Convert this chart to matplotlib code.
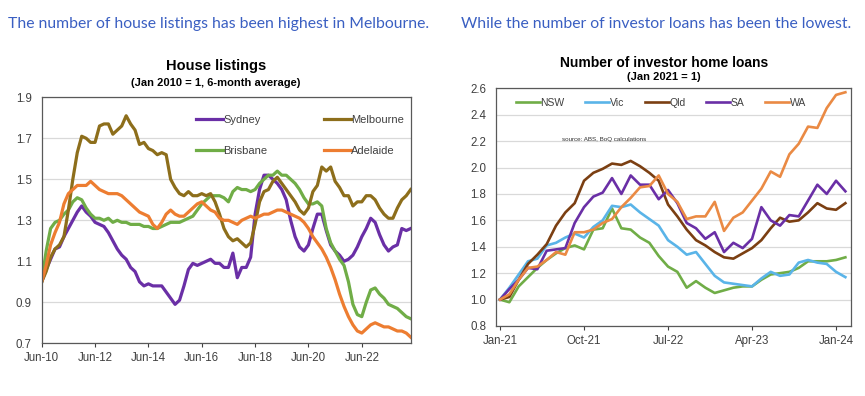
import numpy as np
import matplotlib
matplotlib.use("Agg")
import matplotlib.pyplot as plt

plt.rcParams['font.family'] = ['Liberation Sans Narrow', 'Liberation Sans', 'DejaVu Sans']

# ---- left chart: house listings, 2-monthly from Jun-10 (Jan 2010 = 1) ----
listing_ticks = ['Jun-10', 'Jun-12', 'Jun-14', 'Jun-16', 'Jun-18', 'Jun-20', 'Jun-22']
sydney = [1.00, 1.06, 1.11, 1.16, 1.17, 1.22, 1.26, 1.30, 1.34, 1.37,
          1.34, 1.32, 1.29, 1.28, 1.27, 1.24, 1.20, 1.16, 1.13, 1.11,
          1.07, 1.05, 1.00, 0.98, 0.99, 0.98, 0.98, 0.98, 0.95, 0.92,
          0.89, 0.91, 0.98, 1.06, 1.09, 1.08, 1.09, 1.10, 1.11, 1.09,
          1.09, 1.07, 1.07, 1.14, 1.02, 1.07, 1.07, 1.12, 1.33, 1.45,
          1.52, 1.52, 1.50, 1.48, 1.45, 1.40, 1.30, 1.22, 1.17, 1.15,
          1.18, 1.26, 1.33, 1.33, 1.25, 1.18, 1.15, 1.13, 1.10, 1.11,
          1.13, 1.17, 1.22, 1.26, 1.31, 1.29, 1.23, 1.18, 1.15, 1.17,
          1.18, 1.26, 1.25, 1.26]
melbourne = [1.00, 1.05, 1.12, 1.16, 1.18, 1.22, 1.35, 1.50, 1.63, 1.71,
             1.70, 1.68, 1.68, 1.76, 1.77, 1.77, 1.72, 1.74, 1.76, 1.81,
             1.77, 1.74, 1.67, 1.68, 1.65, 1.64, 1.62, 1.63, 1.62, 1.50,
             1.46, 1.43, 1.42, 1.44, 1.42, 1.42, 1.43, 1.42, 1.43, 1.39,
             1.33, 1.26, 1.22, 1.20, 1.21, 1.19, 1.17, 1.19, 1.28, 1.39,
             1.44, 1.45, 1.49, 1.51, 1.48, 1.45, 1.42, 1.39, 1.35, 1.33,
             1.36, 1.44, 1.47, 1.56, 1.54, 1.56, 1.49, 1.46, 1.42, 1.42,
             1.37, 1.39, 1.39, 1.42, 1.42, 1.40, 1.36, 1.33, 1.31, 1.31,
             1.36, 1.40, 1.42, 1.45]
brisbane = [1.00, 1.15, 1.26, 1.29, 1.30, 1.33, 1.35, 1.39, 1.41, 1.40,
            1.36, 1.33, 1.31, 1.31, 1.30, 1.31, 1.29, 1.30, 1.29, 1.29,
            1.28, 1.28, 1.28, 1.27, 1.27, 1.26, 1.26, 1.27, 1.28, 1.29,
            1.29, 1.29, 1.30, 1.31, 1.32, 1.35, 1.38, 1.40, 1.42, 1.42,
            1.42, 1.41, 1.39, 1.44, 1.46, 1.45, 1.45, 1.44, 1.45, 1.48,
            1.50, 1.52, 1.52, 1.54, 1.52, 1.52, 1.50, 1.48, 1.45, 1.41,
            1.38, 1.38, 1.39, 1.37, 1.26, 1.19, 1.15, 1.11, 1.08, 1.00,
            0.89, 0.84, 0.83, 0.90, 0.96, 0.97, 0.94, 0.92, 0.89, 0.88,
            0.87, 0.85, 0.83, 0.82]
adelaide = [1.00, 1.08, 1.18, 1.24, 1.29, 1.38, 1.43, 1.45, 1.47, 1.47,
            1.47, 1.49, 1.47, 1.45, 1.44, 1.43, 1.43, 1.43, 1.42, 1.40,
            1.38, 1.36, 1.34, 1.33, 1.32, 1.28, 1.26, 1.29, 1.33, 1.35,
            1.33, 1.32, 1.32, 1.34, 1.36, 1.38, 1.39, 1.37, 1.35, 1.34,
            1.31, 1.30, 1.30, 1.29, 1.28, 1.30, 1.31, 1.32, 1.31, 1.32,
            1.33, 1.33, 1.34, 1.35, 1.35, 1.34, 1.33, 1.32, 1.31, 1.29,
            1.26, 1.22, 1.19, 1.16, 1.12, 1.07, 1.01, 0.94, 0.88, 0.83,
            0.79, 0.76, 0.75, 0.77, 0.79, 0.80, 0.79, 0.78, 0.78, 0.77,
            0.76, 0.76, 0.75, 0.73]

# ---- right chart: investor home loans, monthly from Jan-21 (Jan 2021 = 1) ----
loan_ticks = ['Jan-21', 'Oct-21', 'Jul-22', 'Apr-23', 'Jan-24']
nsw = [1.00, 0.98, 1.10, 1.17, 1.24, 1.30, 1.35, 1.39, 1.41, 1.38,
       1.53, 1.54, 1.69, 1.54, 1.53, 1.47, 1.43, 1.33, 1.25, 1.21,
       1.09, 1.14, 1.09, 1.05, 1.07, 1.09, 1.10, 1.10, 1.15, 1.19,
       1.20, 1.21, 1.24, 1.29, 1.29, 1.29, 1.30, 1.32]
vic = [1.00, 1.09, 1.19, 1.29, 1.31, 1.41, 1.43, 1.47, 1.50, 1.47,
       1.55, 1.60, 1.71, 1.70, 1.72, 1.66, 1.61, 1.56, 1.45, 1.40,
       1.34, 1.36, 1.27, 1.18, 1.13, 1.12, 1.11, 1.10, 1.16, 1.21,
       1.18, 1.19, 1.28, 1.30, 1.28, 1.27, 1.21, 1.17]
qld = [1.00, 1.02, 1.15, 1.27, 1.34, 1.42, 1.56, 1.66, 1.73, 1.90,
       1.96, 1.99, 2.03, 2.02, 2.05, 2.01, 1.96, 1.90, 1.72, 1.63,
       1.53, 1.45, 1.41, 1.36, 1.32, 1.31, 1.35, 1.39, 1.45, 1.54,
       1.62, 1.59, 1.60, 1.66, 1.73, 1.69, 1.68, 1.73]
sa = [1.00, 1.08, 1.15, 1.24, 1.23, 1.37, 1.38, 1.39, 1.58, 1.70,
      1.78, 1.81, 1.92, 1.80, 1.94, 1.87, 1.87, 1.76, 1.83, 1.73,
      1.58, 1.54, 1.46, 1.51, 1.36, 1.43, 1.39, 1.46, 1.70, 1.60,
      1.56, 1.64, 1.63, 1.75, 1.87, 1.80, 1.90, 1.82]
wa = [1.00, 1.04, 1.15, 1.24, 1.25, 1.30, 1.36, 1.34, 1.51, 1.51,
      1.53, 1.58, 1.61, 1.70, 1.77, 1.85, 1.86, 1.94, 1.80, 1.74,
      1.61, 1.63, 1.63, 1.74, 1.52, 1.62, 1.66, 1.75, 1.84, 1.97,
      1.93, 2.10, 2.18, 2.31, 2.30, 2.45, 2.55, 2.57]

TXT = '#404040'
GRID = '#d9d9d9'

fig = plt.figure(figsize=(8.65, 3.96), dpi=100)
fig.patch.set_facecolor('white')

head_kw = dict(color='#3a5fc2', fontsize=11.3, family=['Lato', 'DejaVu Sans'], va='center')
fig.text(8 / 865, 1 - 24 / 396, 'The number of house listings has been highest in Melbourne.', ha='left', **head_kw)
fig.text(851 / 865, 1 - 24 / 396, 'While the number of investor loans has been the lowest.', ha='right', **head_kw)


def style_axes(ax):
    for s in ax.spines.values():
        s.set_color('#595959')
        s.set_linewidth(0.9)
    ax.grid(axis='y', color=GRID, linewidth=0.9)
    ax.set_axisbelow(True)
    ax.tick_params(colors=TXT, labelsize=8.3, length=3, width=0.8)
    ax.tick_params(axis='y', length=0, pad=7)


# left chart
ax1 = fig.add_axes([41.7 / 865, 1 - 343.3 / 396, 369 / 865, 246 / 396])
months = np.arange(len(sydney)) * 2
ax1.plot(months, sydney, color='#6a2fa6', lw=2.3, label='Sydney')
ax1.plot(months, brisbane, color='#70ad47', lw=2.3, label='Brisbane')
ax1.plot(months, melbourne, color='#8d6e1b', lw=2.3, label='Melbourne')
ax1.plot(months, adelaide, color='#ed7d31', lw=2.3, label='Adelaide')
ax1.set_xlim(0, 166)
ax1.set_ylim(0.7, 1.9)
ax1.set_yticks(np.arange(0.7, 1.91, 0.2))
ax1.set_yticklabels(['0.7', '0.9', '1.1', '1.3', '1.5', '1.7', '1.9'])
ax1.set_xticks(np.arange(len(listing_ticks)) * 24)
ax1.set_xticklabels(listing_ticks)
style_axes(ax1)
ax1.legend(ncol=2, loc='upper right', bbox_to_anchor=(1.009, 0.97), frameon=False,
           fontsize=8, handlelength=2.4, handletextpad=0.05, columnspacing=5.1,
           labelspacing=1.9, labelcolor=TXT)
fig.text(216 / 865, 1 - 66 / 396, 'House listings', ha='center', va='center',
         fontsize=10.5, fontweight='bold', color='black')
fig.text(216 / 865, 1 - 83 / 396, '(Jan 2010 = 1, 6-month average)', ha='center', va='center',
         fontsize=8, fontweight='bold', color='black')

# right chart
ax2 = fig.add_axes([496 / 865, 1 - 326 / 396, 354.7 / 865, 237.7 / 396])
m = np.arange(len(nsw))
ax2.plot(m, nsw, color='#70ad47', lw=1.9, label='NSW')
ax2.plot(m, vic, color='#5ab4e8', lw=1.9, label='Vic')
ax2.plot(m, qld, color='#7b3f12', lw=1.9, label='Qld')
ax2.plot(m, sa, color='#6a2fa6', lw=1.9, label='SA')
ax2.plot(m, wa, color='#ea8a44', lw=1.9, label='WA')
ax2.set_xlim(-0.43, 37.57)
ax2.set_ylim(0.8, 2.6)
ax2.set_yticks(np.arange(0.8, 2.61, 0.2))
ax2.set_yticklabels(['%.1f' % v for v in np.arange(0.8, 2.61, 0.2)])
ax2.set_xticks(np.arange(len(loan_ticks)) * 9)
ax2.set_xticklabels(loan_ticks)
style_axes(ax2)
ax2.legend(ncol=5, loc='upper center', bbox_to_anchor=(0.465, 1.0), frameon=False,
           fontsize=7.5, handlelength=2.3, handletextpad=0.05, columnspacing=2.0,
           labelcolor=TXT)
ax2.text(561.7 / 865, 1 - 139.3 / 396, 'source: ABS, BoQ calculations', transform=fig.transFigure,
         fontsize=4.5, color='#333333', ha='left', va='center')
fig.text(664 / 865, 1 - 62.7 / 396, 'Number of investor home loans', ha='center', va='center',
         fontsize=10, fontweight='bold', color='black')
fig.text(664 / 865, 1 - 77 / 396, '(Jan 2021 = 1)', ha='center', va='center',
         fontsize=8, fontweight='bold', color='black')

fig.savefig('out.png', dpi=100, facecolor='white')
